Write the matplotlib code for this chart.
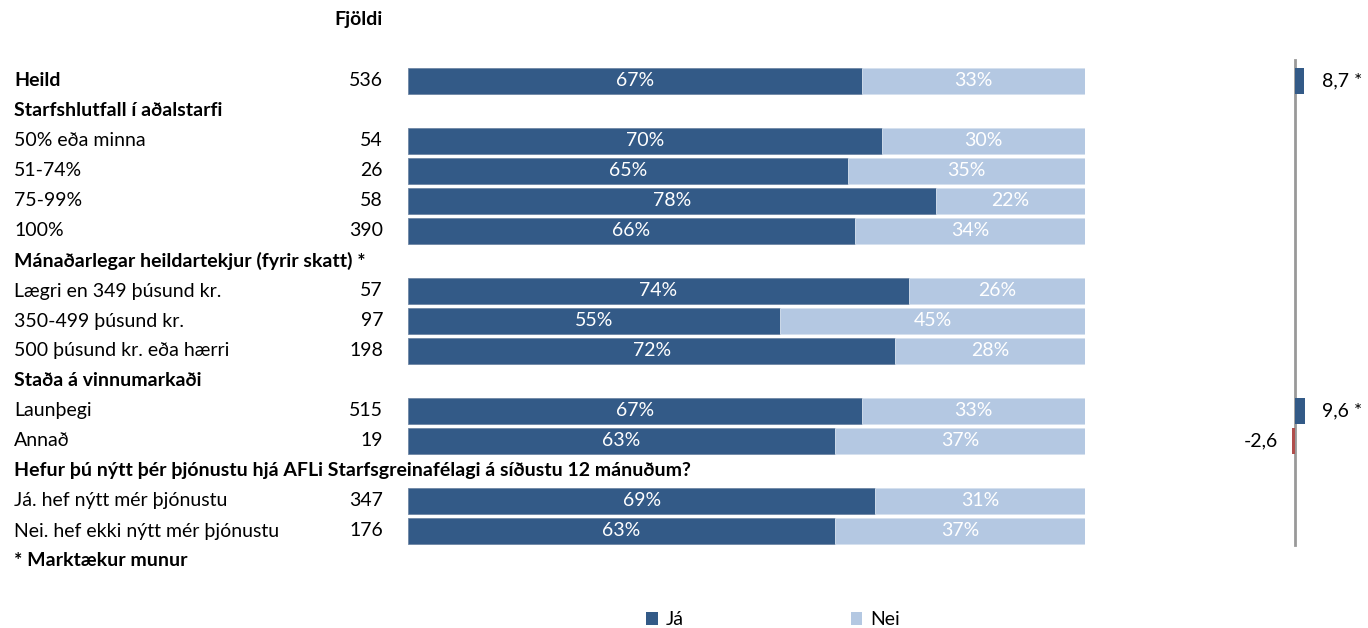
import matplotlib
matplotlib.use("Agg")
import matplotlib.pyplot as plt
import matplotlib.transforms as mtransforms
from matplotlib.patches import Patch

plt.rcParams['font.family'] = ['Lato', 'DejaVu Sans']

# rows: (label, is_header)
labels = ["Heild", "Starfshlutfall í aðalstarfi", "50% eða minna", "51-74%", "75-99%", "100%",
          "Mánaðarlegar heildartekjur (fyrir skatt) *", "Lægri en 349 þúsund kr.",
          "350-499 þúsund kr.", "500 þúsund kr. eða hærri", "Staða á vinnumarkaði",
          "Launþegi", "Annað",
          "Hefur þú nýtt þér þjónustu hjá AFLi Starfsgreinafélagi á síðustu 12 mánuðum?",
          "Já. hef nýtt mér þjónustu", "Nei. hef ekki nýtt mér þjónustu"]
bold_rows = [True, True, False, False, False, False, True, False, False, False, True,
             False, False, True, False, False]
counts = [536, None, 54, 26, 58, 390, None, 57, 97, 198, None, 515, 19, None, 347, 176]
ja = [67, None, 70, 65, 78, 66, None, 74, 55, 72, None, 67, 63, None, 69, 63]
nei = [33, None, 30, 35, 22, 34, None, 26, 45, 28, None, 33, 37, None, 31, 37]
diff = [8.7, None, None, None, None, None, None, None, None, None, None, 9.6, -2.6, None, None, None]
diff_labels = ["8,7 *", "", "", "", "", "", "", "", "", "", "", "9,6 *", "-2,6", "", "", ""]
footer = "* Marktækur munur"

dark = "#335a87"
light = "#b4c8e2"
neg = "#b04e4c"
fs = 14

W, H = 1368, 628
fig = plt.figure(figsize=(W / 100, H / 100), dpi=100)

# row 0 centre at 81px, 30px per row
y0, step = 81, 30
ylim = ((H - y0) / step, (0 - y0) / step)

ax = fig.add_axes([408 / W, 0, (1085 - 408) / W, 1])
ax.set_xlim(0, 1)
ax.set_ylim(*ylim)
ax.axis("off")

ax2 = fig.add_axes([1245 / W, 0, 100 / W, 1])
ax2.set_xlim(-50, 50)
ax2.set_ylim(*ylim)
ax2.axis("off")

trans = mtransforms.blended_transform_factory(fig.transFigure, ax.transData)

for i, lab in enumerate(labels):
    ax.text(14 / W, i, lab, transform=trans, ha="left", va="center", fontsize=fs,
            fontweight="bold" if bold_rows[i] else "normal", color="black")
    if counts[i] is not None:
        ax.text(383 / W, i, str(counts[i]), transform=trans, ha="right", va="center",
                fontsize=fs, color="black")
    if ja[i] is not None:
        a = ja[i] / 100
        b = nei[i] / 100
        ax.barh(i, a, left=0, height=0.87, color=dark, edgecolor="#6f86a5", linewidth=0.6)
        ax.barh(i, b, left=a, height=0.87, color=light, edgecolor="#d5e0ee", linewidth=0.6)
        ax.text(a / 2, i, f"{ja[i]}%", ha="center", va="center", color="white", fontsize=fs)
        ax.text(a + b / 2, i, f"{nei[i]}%", ha="center", va="center", color="white", fontsize=fs)
    if diff[i] is not None:
        c = dark if diff[i] > 0 else neg
        ax2.barh(i, diff[i], height=0.87, color=c, linewidth=0)
        if diff[i] > 0:
            ax2.text(27, i, diff_labels[i], ha="left", va="center", fontsize=fs)
        else:
            ax2.text(-17, i, diff_labels[i], ha="right", va="center", fontsize=fs)

ax2.plot([0, 0], [-0.7, 15.47], color="#999999", lw=2, zorder=0)

ax.text(383 / W, (20 - y0) / step, "Fjöldi", transform=trans, ha="right", va="center",
        fontsize=fs, fontweight="bold")
ax.text(14 / W, len(labels), footer, transform=trans, ha="left", va="center",
        fontsize=fs, fontweight="bold")

handles = [Patch(facecolor=dark, label="Já"), Patch(facecolor=light, label="Nei")]
fig.legend(handles=handles, loc="center", bbox_to_anchor=(0.565, 0.013), ncol=2,
           frameon=False, fontsize=fs, handlelength=0.6, handleheight=0.6,
           handletextpad=0.4, columnspacing=8.6)

fig.savefig("out.png", dpi=100)
